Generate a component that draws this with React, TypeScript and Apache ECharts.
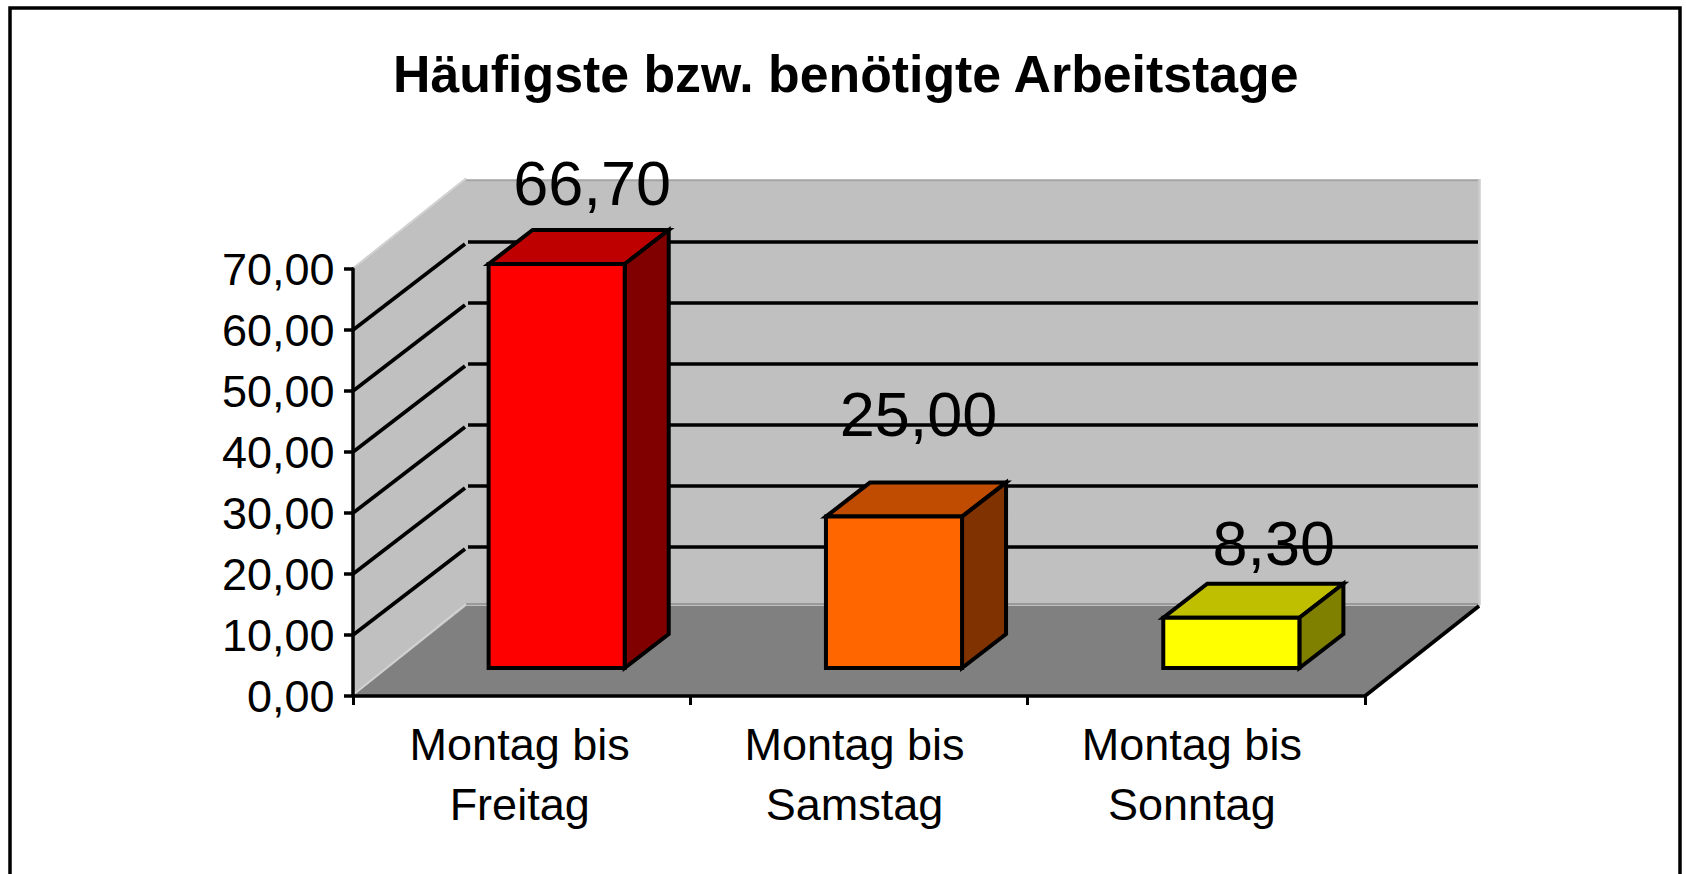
import React, { useEffect, useRef } from "react";
import * as echarts from "echarts";

const titleText = "Häufigste bzw. benötigte Arbeitstage";
const categories = ["Montag bis\nFreitag", "Montag bis\nSamstag", "Montag bis\nSonntag"];
const values = [66.7, 25.0, 8.3];
const yTicks = [0, 10, 20, 30, 40, 50, 60, 70];
const frontColors = ["#ff0000", "#ff6600", "#ffff00"];
const topColors = ["#bf0000", "#bf4c00", "#bfbf00"];
const sideColors = ["#800000", "#803300", "#808000"];
const labelShiftX = [14, 3, 21];
const labelLift = [16, 37, 9];

const FONT = '"Liberation Sans", Arial, sans-serif';
const DEPTH_X = 113;
const DEPTH_Y = 90;
const BAR_FRONT_X = 35;
const BAR_FRONT_Y = 28;
const BAR_DEPTH_X = 44;
const BAR_DEPTH_Y = 34;
const BAR_RATIO = 0.4035;

const fmt = (v: number) => v.toFixed(2).replace(".", ",");

const seg = (x1: number, y1: number, x2: number, y2: number, stroke: string, lineWidth: number) => ({
  type: "line",
  shape: { x1, y1, x2, y2 },
  style: { stroke, lineWidth, fill: "none" },
});
const poly = (points: number[][], fill: string, stroke?: string, lineWidth = 0) => ({
  type: "polygon",
  shape: { points },
  style: { fill, stroke: stroke ?? "none", lineWidth, lineJoin: "miter" },
});

function renderWalls(_: any, api: any) {
  const band = api.size([1, 0])[0];
  const left = api.coord([0, 0])[0] - band / 2;
  const right = left + band * categories.length;
  const y0 = api.coord([0, 0])[1];
  const yTop = api.coord([0, 70])[1];
  const bl = left + DEPTH_X;
  const br = right + DEPTH_X + 2;
  const by0 = y0 - DEPTH_Y;
  const byTop = yTop - DEPTH_Y;
  const children: any[] = [
    poly([[left, yTop], [bl, byTop], [bl, by0], [left, y0]], "#c0c0c0"),
    poly([[bl, byTop], [br, byTop], [br, by0], [bl, by0]], "#c0c0c0"),
    poly([[left, y0], [bl, by0], [br, by0], [right, y0]], "#808080"),
    seg(bl, byTop + 1.5, br - 2, byTop + 1.5, "#a4a4a4", 1.5),
    seg(br - 0.5, byTop, br - 0.5, by0 - 1, "#cccccc", 2.5),
    seg(bl, by0 - 2, br - 2, by0 - 2, "#8c8c8c", 1.5),
    seg(left, yTop - 1, bl, byTop - 1, "#cfcfcf", 1.5),
    seg(left + 1, y0 - 2, bl, by0 - 2, "#d6d6d6", 1.5),
    seg(right, y0, br - 1, by0, "#000000", 3.7),
  ];
  yTicks.slice(1, -1).forEach((t) => {
    const y = api.coord([0, t])[1];
    children.push(seg(left, y, bl - 1, y - DEPTH_Y + 4, "#000000", 3.7));
    children.push(seg(bl + 2, y - DEPTH_Y + 2, br - 2, y - DEPTH_Y + 2, "#000000", 3.7));
  });
  return { type: "group", children };
}

function renderBar(params: any, api: any) {
  const i = params.dataIndex;
  const value = api.value(1);
  const band = api.size([1, 0])[0];
  const [cx, yBase] = api.coord([i, 0]);
  const yVal = api.coord([i, value])[1];
  const w = band * BAR_RATIO;
  const dx = BAR_DEPTH_X;
  const dy = BAR_DEPTH_Y;
  const x1 = cx + BAR_FRONT_X - w / 2;
  const x2 = x1 + w;
  const yB = yBase - BAR_FRONT_Y;
  const yT = yVal - BAR_FRONT_Y;
  const line = { stroke: "#000000", lineWidth: 4 };
  return {
    type: "group",
    children: [
      poly([[x1, yT], [x2, yT], [x2 + dx, yT - dy], [x1 + dx, yT - dy]], topColors[i], line.stroke, line.lineWidth),
      poly([[x2, yT], [x2 + dx, yT - dy], [x2 + dx, yB - dy], [x2, yB]], sideColors[i], line.stroke, line.lineWidth),
      poly([[x1, yT], [x2, yT], [x2, yB], [x1, yB]], frontColors[i], line.stroke, line.lineWidth),
      {
        type: "text",
        style: {
          text: fmt(value),
          x: (x1 + x2 + dx) / 2 + labelShiftX[i] - (BAR_DEPTH_X - 43) / 2,
          y: yT - dy - labelLift[i],
          fill: "#000000",
          font: `63px ${FONT}`,
          align: "center",
          verticalAlign: "bottom",
        },
      },
    ],
  };
}

const catToken = (pad: number) => ({
  fontFamily: FONT,
  fontSize: 45,
  lineHeight: 59.5,
  color: "#000000",
  padding: [0, pad, 0, 0],
});

export default function App() {
  const ref = useRef<HTMLDivElement>(null);
  useEffect(() => {
    const chart = echarts.init(ref.current!, null, { renderer: "svg" });
    chart.setOption({
      animation: false,
      backgroundColor: "#ffffff",
      title: {
        text: titleText,
        left: 393,
        top: 48,
        padding: 0,
        textStyle: { fontFamily: FONT, fontWeight: "bold", fontSize: 51.8, color: "#000000" },
      },
      graphic: [
        {
          type: "rect",
          z: -5,
          shape: { x: 10, y: 8, width: 1670, height: 900 },
          style: { fill: "none", stroke: "#000000", lineWidth: 3.5 },
        },
      ],
      grid: { left: 353, top: 269, width: 1012, height: 427, containLabel: false },
      xAxis: {
        type: "category",
        data: categories,
        axisLine: { lineStyle: { color: "#000000", width: 3.5 } },
        axisTick: { show: true, length: 9, lineStyle: { color: "#000000", width: 3 } },
        axisLabel: {
          interval: 0,
          margin: 19,
          color: "#000000",
          fontFamily: FONT,
          fontSize: 45,
          lineHeight: 59.5,
          formatter: (v: string, i: number) =>
            v.split("\n").map((l) => `{c${i}|${l}}`).join("\n"),
          rich: { c0: catToken(4), c1: catToken(9), c2: catToken(9) },
        },
      },
      yAxis: [
        {
          type: "value",
          min: 0,
          max: 70,
          interval: 10,
          splitLine: { show: false },
          axisLine: { show: true, lineStyle: { color: "#000000", width: 3.5 } },
          axisTick: { show: true, length: 9, lineStyle: { color: "#000000", width: 3.5 } },
          axisLabel: {
            margin: 18.5,
            color: "#000000",
            fontFamily: FONT,
            fontSize: 45,
            formatter: (v: number) => fmt(v),
          },
        },
        { type: "value", show: false, min: 0, max: 70.5, splitLine: { show: false } },
      ],
      series: [
        { type: "custom", z: -1, silent: true, renderItem: renderWalls, data: [[0, 0]], yAxisIndex: 0 },
        {
          type: "custom",
          z: 2,
          renderItem: renderBar,
          yAxisIndex: 1,
          data: values.map((v, i) => [i, v]),
          encode: { x: 0, y: 1 },
        },
      ],
    });
    return () => chart.dispose();
  }, []);
  return (
    <div
      ref={ref}
      style={{ position: "absolute", left: 0, top: 0, width: 1686, height: 874 }}
    />
  );
}
